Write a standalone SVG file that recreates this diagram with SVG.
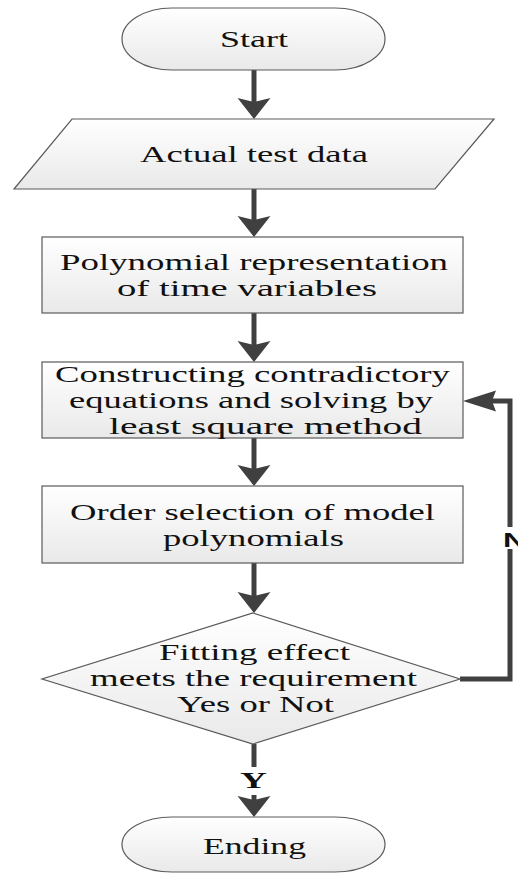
<svg xmlns="http://www.w3.org/2000/svg" width="518" height="874" viewBox="0 0 518 874">
<defs>
<linearGradient id="g" x1="0" y1="0" x2="0" y2="1">
<stop offset="0" stop-color="#ffffff"/>
<stop offset="1" stop-color="#e9e9e9"/>
</linearGradient>
<path id="ah" d="M-16.5,-21 L0,-17 L16.5,-21 L0,0 Z" fill="#404040"/>
</defs>
<style>
.n{fill:url(#g);stroke:#5a5a5a;stroke-width:1.2}
.t{font-family:"Liberation Serif","Times New Roman",serif;font-size:24px;fill:#111}
.c{fill:none;stroke:#404040;stroke-width:5}
.lb{font-family:"Liberation Serif","Times New Roman",serif;font-size:23px;font-weight:bold;fill:#111}
.ls{font-family:"Liberation Sans",Arial,sans-serif;font-size:21px;font-weight:bold;fill:#111}
</style>
<g id="connectors">
<line class="c" x1="254" y1="70" x2="254" y2="102"/>
<use href="#ah" x="254" y="119"/>
<line class="c" x1="254" y1="189" x2="254" y2="220"/>
<use href="#ah" x="254" y="237"/>
<line class="c" x1="254" y1="313" x2="254" y2="345"/>
<use href="#ah" x="254" y="362"/>
<line class="c" x1="254" y1="438" x2="254" y2="469"/>
<use href="#ah" x="254" y="486"/>
<line class="c" x1="254" y1="563" x2="254" y2="596"/>
<use href="#ah" x="254" y="613"/>
<line class="c" x1="254" y1="744" x2="254" y2="767"/>
<line class="c" x1="254" y1="795" x2="254" y2="800"/>
<use href="#ah" x="254" y="817"/>
<polyline class="c" points="460,679 510,679 510,401 492,401"/>
<path d="M463,401 L496,390.5 L492,401 L496,411.5 Z" fill="#404040"/>
</g>
<g id="start">
<path class="n" d="M172,8 H335 A50,31 0 0 1 335,70 H172 A50,31 0 0 1 172,8 Z"/>
<text class="t" x="220" y="47" textLength="68" lengthAdjust="spacingAndGlyphs">Start</text>
</g>
<g id="data">
<polygon class="n" points="72,119 494,119 435,189 14,189"/>
<text class="t" x="140" y="162" textLength="228" lengthAdjust="spacingAndGlyphs">Actual test data</text>
</g>
<g id="poly">
<rect class="n" x="42" y="237" width="421" height="76"/>
<text class="t" x="60" y="270" textLength="388" lengthAdjust="spacingAndGlyphs">Polynomial representation</text>
<text class="t" x="117" y="296" textLength="260" lengthAdjust="spacingAndGlyphs">of time variables</text>
</g>
<g id="construct">
<rect class="n" x="42" y="362" width="421" height="76"/>
<text class="t" x="55" y="382" textLength="395" lengthAdjust="spacingAndGlyphs">Constructing contradictory</text>
<text class="t" x="69" y="408" textLength="364" lengthAdjust="spacingAndGlyphs">equations and solving by</text>
<text class="t" x="109" y="434" textLength="313" lengthAdjust="spacingAndGlyphs">least square method</text>
</g>
<g id="order">
<rect class="n" x="42" y="486" width="421" height="77"/>
<text class="t" x="70" y="520" textLength="365" lengthAdjust="spacingAndGlyphs">Order selection of model</text>
<text class="t" x="163" y="546" textLength="181" lengthAdjust="spacingAndGlyphs">polynomials</text>
</g>
<g id="decision">
<polygon class="n" points="253,613 460,679 253,744 42,679"/>
<text class="t" x="159" y="660" textLength="191" lengthAdjust="spacingAndGlyphs">Fitting effect</text>
<text class="t" x="90" y="686" textLength="327" lengthAdjust="spacingAndGlyphs">meets the requirement</text>
<text class="t" x="177" y="712" textLength="157" lengthAdjust="spacingAndGlyphs">Yes or Not</text>
</g>
<g id="label-y">
<text class="lb" x="240" y="788" textLength="27" lengthAdjust="spacingAndGlyphs">Y</text>
</g>
<g id="label-n">
<rect x="500" y="527" width="18" height="22" fill="#ffffff"/>
<text class="ls" x="503" y="547" textLength="23" lengthAdjust="spacingAndGlyphs">N</text>
</g>
<g id="ending">
<path class="n" d="M172,817 H335 A50,27.5 0 0 1 335,872 H172 A50,27.5 0 0 1 172,817 Z"/>
<text class="t" x="203" y="854" textLength="103" lengthAdjust="spacingAndGlyphs">Ending</text>
</g>
</svg>
